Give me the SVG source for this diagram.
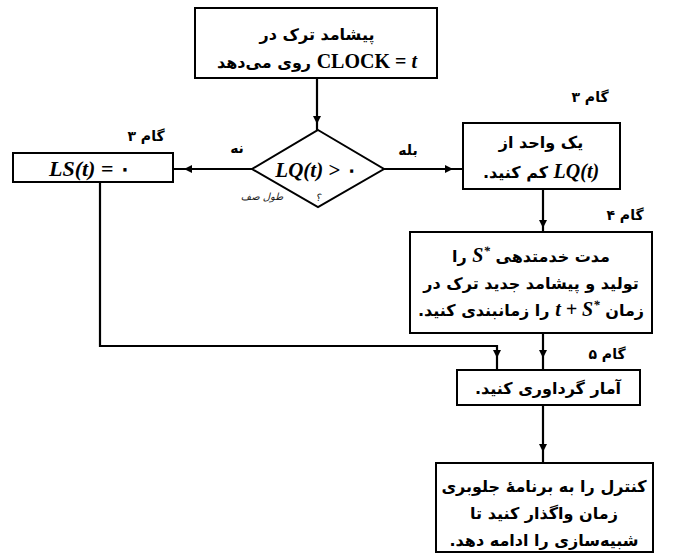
<svg xmlns="http://www.w3.org/2000/svg" width="682" height="560" viewBox="0 0 682 560">
<style>
.box{fill:#fff;stroke:#000;stroke-width:2}
.ln{fill:none;stroke:#000;stroke-width:2.2}
.fa{font-family:"DejaVu Sans",sans-serif;font-weight:bold;font-size:16px;fill:#000}
.lb{font-family:"DejaVu Sans",sans-serif;font-weight:bold;font-size:14px;fill:#000}
.m{font-family:"Liberation Serif",serif;font-weight:bold;font-size:20px}
.mi{font-family:"Liberation Serif",serif;font-style:italic;font-weight:bold}
.sup{font-size:13px}
.hw{font-family:"DejaVu Sans",sans-serif;font-size:10px;fill:#222;font-style:italic}
</style>
<defs>
<marker id="ah" viewBox="0 0 10 10" refX="10" refY="5" markerWidth="8" markerHeight="8" markerUnits="userSpaceOnUse" orient="auto">
<path d="M0,0 L10,5 L0,10 z" fill="#000"/>
</marker>
</defs>
<rect width="682" height="560" fill="#fff"/>
<g id="connectors">
<path class="ln" d="M317,78 L317,124 L317,130" marker-mid="url(#ah)"/>
<path class="ln" d="M252,169 L184,169 L173,169" marker-mid="url(#ah)"/>
<path class="ln" d="M384,169 L453,169 L463,169" marker-mid="url(#ah)"/>
<path class="ln" d="M543,189 L543,228 L543,232" marker-mid="url(#ah)"/>
<path class="ln" d="M543,333 L543,358 L543,370" marker-mid="url(#ah)"/>
<path class="ln" d="M100,182 L100,346 L497,346 L497,352"/>
<path class="ln" d="M497,350 L497,358 L497,370" marker-mid="url(#ah)"/>
<path class="ln" d="M543,405 L543,452 L543,463" marker-mid="url(#ah)"/>
</g>
<g id="start">
<rect class="box" x="195" y="8" width="242" height="70"/>
<text class="fa" x="317" y="40" text-anchor="middle" direction="rtl">پیشامد ترک در</text>
<text class="fa" x="317" y="68" text-anchor="middle" direction="rtl"><tspan class="m" font-size="22">CLOCK = </tspan><tspan class="m mi" font-size="22">t</tspan> روی می‌دهد</text>
</g>
<g id="decision">
<polygon class="box" points="318,130 384,169 318,207 252,169"/>
<text x="316" y="177" text-anchor="middle" font-family="Liberation Serif, serif" font-size="21" font-weight="bold"><tspan font-style="italic">LQ(t)</tspan> &gt; ۰</text>
<text class="hw" x="262" y="200" text-anchor="middle" direction="rtl">طول صف</text>
<text class="hw" x="318" y="201" text-anchor="middle" font-size="12">؟</text>
<text class="lb" x="237" y="153" text-anchor="middle" direction="rtl">نه</text>
<text class="lb" x="408" y="155" text-anchor="middle" direction="rtl">بله</text>
</g>
<g id="ls">
<rect class="box" x="13" y="153" width="160" height="29"/>
<text x="90" y="176" text-anchor="middle" font-family="Liberation Serif, serif" font-size="22" font-weight="bold"><tspan font-style="italic">LS(t)</tspan> = ۰</text>
<text class="lb" x="146" y="141" text-anchor="middle" direction="rtl">گام ۳</text>
</g>
<g id="decrement">
<rect class="box" x="463" y="123" width="157" height="66"/>
<text class="fa" x="541" y="148" text-anchor="middle" direction="rtl">یک واحد از</text>
<text class="fa" x="541" y="178" text-anchor="middle" direction="rtl"><tspan class="m mi">LQ(t)</tspan> کم کنید.</text>
<text class="lb" x="590" y="102" text-anchor="middle" direction="rtl">گام ۳</text>
</g>
<g id="schedule">
<rect class="box" x="410" y="232" width="242" height="101"/>
<text class="fa" x="531" y="262" text-anchor="middle" direction="rtl">مدت خدمتدهی <tspan class="m mi">S<tspan class="sup" baseline-shift="super">*‎</tspan></tspan> را</text>
<text class="fa" x="531" y="289" text-anchor="middle" direction="rtl">تولید و پیشامد جدید ترک در</text>
<text class="fa" x="531" y="316" text-anchor="middle" direction="rtl">زمان <tspan class="m mi">‎t + S<tspan class="sup" baseline-shift="super">*‎</tspan></tspan> را زمانبندی کنید.</text>
<text class="lb" x="625" y="220" text-anchor="middle" direction="rtl">گام ۴</text>
</g>
<g id="stats">
<rect class="box" x="457" y="370" width="183" height="35"/>
<text class="fa" x="548" y="394" text-anchor="middle" direction="rtl">آمار گرداوری کنید.</text>
<text class="lb" x="607" y="359" text-anchor="middle" direction="rtl">گام ۵</text>
</g>
<g id="return">
<rect class="box" x="436" y="463" width="217" height="89"/>
<text class="fa" x="544" y="492" text-anchor="middle" direction="rtl">کنترل را به برنامهٔ جلوبری</text>
<text class="fa" x="544" y="519" text-anchor="middle" direction="rtl">زمان واگذار کنید تا</text>
<text class="fa" x="544" y="546" text-anchor="middle" direction="rtl">شبیه‌سازی را ادامه دهد.</text>
</g>
</svg>
